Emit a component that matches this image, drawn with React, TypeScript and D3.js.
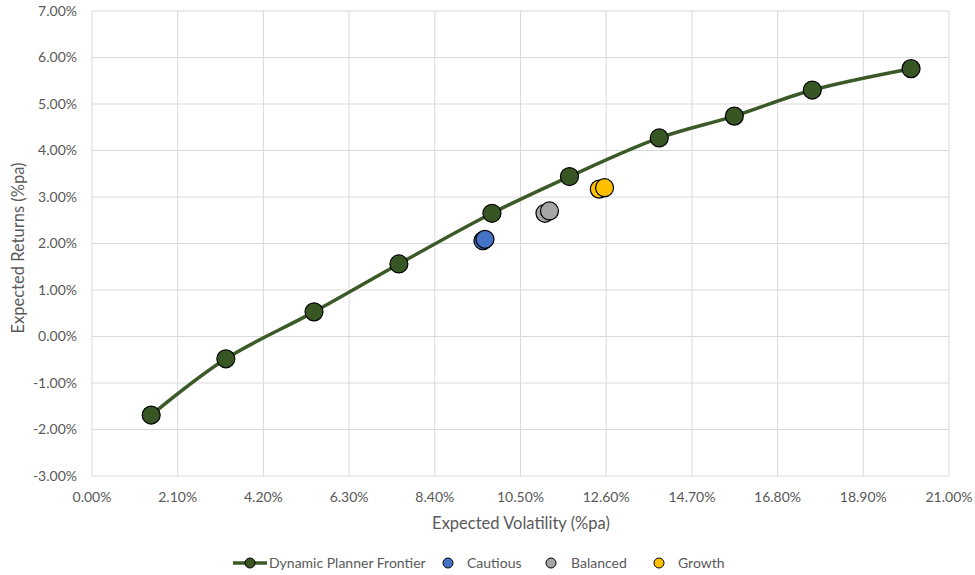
import React from "react";
import * as d3 from "d3";

const frontierVol = [1.45, 3.28, 5.44, 7.52, 9.8, 11.7, 13.9, 15.74, 17.65, 20.07];
const frontierRet = [-1.69, -0.48, 0.53, 1.56, 2.65, 3.44, 4.27, 4.74, 5.3, 5.76];
const cautiousVol = [9.58, 9.63];
const cautiousRet = [2.06, 2.09];
const balancedVol = [11.1, 11.21];
const balancedRet = [2.65, 2.7];
const growthVol = [12.43, 12.56];
const growthRet = [3.17, 3.2];
const xTicks = [0, 2.1, 4.2, 6.3, 8.4, 10.5, 12.6, 14.7, 16.8, 18.9, 21];
const yTicks = [-3, -2, -1, 0, 1, 2, 3, 4, 5, 6, 7];

const W = 975;
const H = 575;
const FONT = "Lato, 'Open Sans', 'Liberation Sans', sans-serif";
const GREEN = "#3b5a27";
const MARKER_GREEN = "#375623";

export default function App() {
  const x = d3.scaleLinear().domain([0, 21]).range([92, 949]);
  const y = d3.scaleLinear().domain([-3, 7]).range([476, 11]);
  const line = d3
    .line<number>()
    .x((_, i) => x(frontierVol[i]))
    .y((_, i) => y(frontierRet[i]))
    .curve(d3.curveCatmullRom.alpha(0.5));

  const others = [
    { vols: cautiousVol, rets: cautiousRet, color: "#4472c4" },
    { vols: balancedVol, rets: balancedRet, color: "#a5a5a5" },
    { vols: growthVol, rets: growthRet, color: "#ffc000" },
  ];

  const legendY = 563;
  const legend = [
    { label: "Cautious", cx: 448, tx: 467, color: "#4472c4" },
    { label: "Balanced", cx: 551, tx: 571, color: "#a5a5a5" },
    { label: "Growth", cx: 659, tx: 678, color: "#ffc000" },
  ];

  return (
    <svg
      width={W}
      height={H}
      style={{ position: "absolute", left: 0, top: 0, background: "#fff" }}
      fontFamily={FONT}
    >
      {xTicks.map((t) => (
        <line key={"gx" + t} x1={x(t)} x2={x(t)} y1={y(7)} y2={y(-3)} stroke="#d9d9d9" strokeWidth={1} />
      ))}
      {yTicks.map((t) => (
        <line key={"gy" + t} x1={x(0)} x2={x(21)} y1={y(t)} y2={y(t)} stroke="#d9d9d9" strokeWidth={1} />
      ))}
      {yTicks.map((t) => (
        <text key={"ty" + t} x={77} y={y(t)} dy="0.35em" textAnchor="end" fontSize={14} fill="#595959">
          {t.toFixed(2) + "%"}
        </text>
      ))}
      {xTicks.map((t) => (
        <text key={"tx" + t} x={x(t)} y={497} dy="0.35em" textAnchor="middle" fontSize={14} fill="#595959">
          {t.toFixed(2) + "%"}
        </text>
      ))}
      <text x={521} y={523} dy="0.35em" textAnchor="middle" fontSize={16.5} fill="#595959">
        Expected Volatility (%pa)
      </text>
      <text
        transform={`translate(18,248) rotate(-90)`}
        dy="0.35em"
        textAnchor="middle"
        fontSize={16.5}
        fill="#595959"
      >
        Expected Returns (%pa)
      </text>

      <path d={line(frontierVol) || ""} fill="none" stroke={GREEN} strokeWidth={3.5} />
      {frontierVol.map((v, i) => (
        <circle key={"f" + i} cx={x(v)} cy={y(frontierRet[i])} r={9} fill={MARKER_GREEN} stroke="#000" strokeWidth={1.2} />
      ))}
      {others.map((s) =>
        s.vols.map((v, i) => (
          <circle key={s.color + i} cx={x(v)} cy={y(s.rets[i])} r={9} fill={s.color} stroke="#000" strokeWidth={1.2} />
        ))
      )}

      <line x1={233} x2={267} y1={legendY} y2={legendY} stroke={GREEN} strokeWidth={3.5} />
      <circle cx={250} cy={legendY} r={5} fill={MARKER_GREEN} stroke="#000" strokeWidth={1} />
      <text x={269} y={legendY} dy="0.35em" fontSize={14} fill="#595959">
        Dynamic Planner Frontier
      </text>
      {legend.map((l) => (
        <g key={l.label}>
          <circle cx={l.cx} cy={legendY} r={5} fill={l.color} stroke="#000" strokeWidth={1} />
          <text x={l.tx} y={legendY} dy="0.35em" fontSize={14} fill="#595959">
            {l.label}
          </text>
        </g>
      ))}
    </svg>
  );
}
